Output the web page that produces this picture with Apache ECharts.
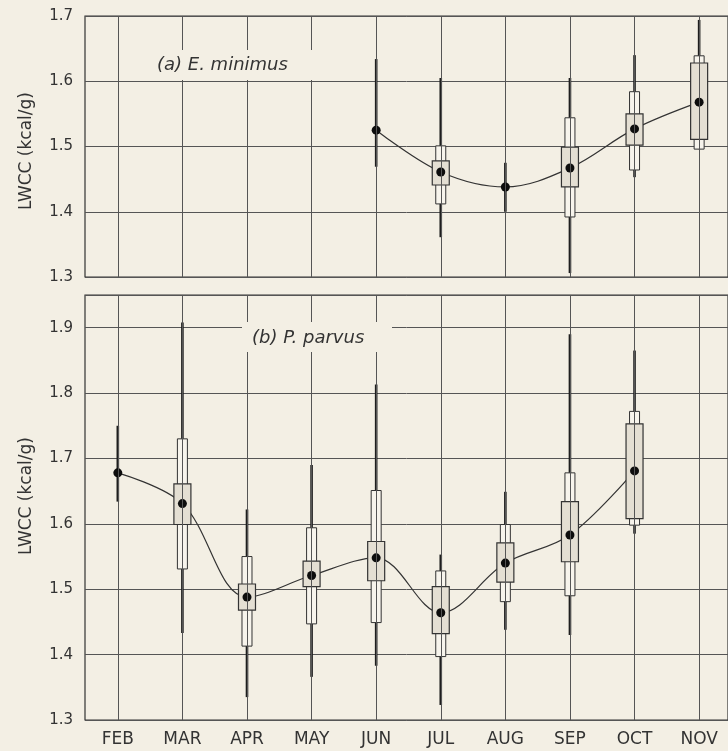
<!DOCTYPE html>
<html>
<head>
<meta charset="utf-8">
<script src="https://cdn.jsdelivr.net/npm/echarts@6.0.0/dist/echarts.min.js"></script>
<style>
html,body{margin:0;padding:0;background:#f3efe4;}
#chart{width:728px;height:751px;}
</style>
</head>
<body>
<div id="chart"></div>
<script>
// Categories
const months = ['FEB','MAR','APR','MAY','JUN','JUL','AUG','SEP','OCT','NOV'];

// (a) E. minimus  (LWCC, kcal/g)
const aMean        = [null, null, null, null, 1.525, 1.461, 1.438, 1.467, 1.527, 1.568];
const aWhiskerHigh = [null, null, null, null, 1.634, 1.605, 1.475, 1.605, 1.640, 1.694];
const aOuterHigh   = [null, null, null, null, null,  1.501, null,  1.544, 1.584, 1.639];
const aInnerHigh   = [null, null, null, null, null,  1.478, null,  1.499, 1.550, 1.628];
const aInnerLow    = [null, null, null, null, null,  1.441, null,  1.438, 1.502, 1.511];
const aOuterLow    = [null, null, null, null, null,  1.412, null,  1.392, 1.464, 1.496];
const aWhiskerLow  = [null, null, null, null, 1.469, 1.361, 1.400, 1.306, 1.453, 1.496];

// (b) P. parvus  (LWCC, kcal/g)
const bMean        = [1.678, 1.631, 1.488, 1.521, 1.548, 1.464, 1.540, 1.583, 1.681, null];
const bWhiskerHigh = [1.750, 1.908, 1.622, 1.690, 1.813, 1.553, 1.649, 1.890, 1.865, null];
const bOuterHigh   = [null,  1.730, 1.550, 1.594, 1.651, 1.528, 1.599, 1.678, 1.772, null];
const bInnerHigh   = [null,  1.661, 1.508, 1.543, 1.573, 1.504, 1.571, 1.634, 1.753, null];
const bInnerLow    = [null,  1.599, 1.468, 1.504, 1.513, 1.432, 1.511, 1.542, 1.608, null];
const bOuterLow    = [null,  1.531, 1.413, 1.447, 1.449, 1.397, 1.481, 1.490, 1.598, null];
const bWhiskerLow  = [1.634, 1.433, 1.335, 1.366, 1.383, 1.323, 1.438, 1.430, 1.585, null];

// y tick range
const aYMin = 1.3, aYMax = 1.7;
const bYMin = 1.3, bYMax = 1.95;

const PAPER = '#f3efe4';
const GRID = '#555';

function rows(wl, ol, il, ih, oh, wh) {
  const out = [];
  months.forEach((m, i) => {
    if (wl[i] == null) return;
    out.push([i, wl[i], ol[i] == null ? '-' : ol[i], il[i] == null ? '-' : il[i],
              ih[i] == null ? '-' : ih[i], oh[i] == null ? '-' : oh[i], wh[i]]);
  });
  return out;
}
function meanPts(arr) {
  const out = [];
  arr.forEach((v, i) => { if (v != null) out.push([i, v]); });
  return out;
}

function renderBox(params, api) {
  const x = api.value(0);
  const children = [];
  const pH = api.coord([x, api.value(6)]);
  const pL = api.coord([x, api.value(1)]);
  const cx = pH[0];
  children.push({type: 'line', shape: {x1: cx, y1: pH[1], x2: cx, y2: pL[1]},
    style: {stroke: '#1e1e1e', lineWidth: 2.6}});
  const oh = api.value(5), ol = api.value(2);
  if (!isNaN(oh) && !isNaN(ol)) {
    const t = api.coord([x, oh])[1], b = api.coord([x, ol])[1];
    children.push({type: 'rect', shape: {x: cx - 5, y: t, width: 10, height: b - t},
      style: {fill: '#f7f4ec', stroke: '#333', lineWidth: 1}});
  }
  const ih = api.value(4), il = api.value(3);
  if (!isNaN(ih) && !isNaN(il)) {
    const t = api.coord([x, ih])[1], b = api.coord([x, il])[1];
    children.push({type: 'rect', shape: {x: cx - 8.5, y: t, width: 17, height: b - t},
      style: {fill: '#e4dfd3', stroke: '#333', lineWidth: 1.2}});
  }
  return {type: 'group', children};
}

const X_MIN = -0.508, X_MAX = 9.447;
const gridLines = months.map((m, i) => ({xAxis: i}));

function xAxisDef(gridIndex, showLabels) {
  return {
    type: 'value', gridIndex, min: X_MIN, max: X_MAX,
    axisLine: {show: false}, axisTick: {show: false}, splitLine: {show: false},
    axisLabel: showLabels ? {
      show: true, customValues: months.map((m, i) => i),
      formatter: v => months[Math.round(v)] || '',
      fontFamily: 'DejaVu Sans', fontSize: 17, color: '#333', margin: 11
    } : {show: false}
  };
}
function yAxisDef(gridIndex, min, max) {
  return {
    type: 'value', gridIndex, min, max, interval: 0.1,
    axisLine: {show: false}, axisTick: {show: false},
    splitLine: {show: true, lineStyle: {color: GRID, width: 1}},
    axisLabel: {fontFamily: 'DejaVu Sans', fontSize: 15, color: '#333', margin: 12,
      showMaxLabel: max === 1.7, formatter: v => v.toFixed(1)}
  };
}

function panelSeries(idx, mean, wl, ol, il, ih, oh, wh) {
  return [
    {type: 'line', xAxisIndex: idx, yAxisIndex: idx, data: [], silent: true,
     markLine: {silent: true, symbol: 'none', label: {show: false},
       lineStyle: {color: GRID, width: 1, type: 'solid'}, data: gridLines, animation: false}, z: 1},
    {type: 'line', xAxisIndex: idx, yAxisIndex: idx, data: meanPts(mean), smooth: 0.35,
     showSymbol: false, symbol: 'none', lineStyle: {color: '#333', width: 1.2}, z: 2},
    {type: 'custom', xAxisIndex: idx, yAxisIndex: idx, data: rows(wl, ol, il, ih, oh, wh),
     renderItem: renderBox, encode: {x: 0, y: [1, 6]}, z: 3},
    {type: 'scatter', xAxisIndex: idx, yAxisIndex: idx, data: meanPts(mean),
     symbol: 'circle', symbolSize: 9, itemStyle: {color: '#0d0d0d', opacity: 1}, z: 4}
  ];
}

const chart = echarts.init(document.getElementById('chart'), null, {renderer: 'canvas'});
chart.setOption({
  backgroundColor: PAPER,
  animation: false,
  grid: [
    {left: 85, top: 16, width: 646, height: 261, show: true, borderColor: '#333', borderWidth: 1.2, backgroundColor: 'transparent'},
    {left: 85, top: 295, width: 646, height: 425, show: true, borderColor: '#333', borderWidth: 1.2, backgroundColor: 'transparent'}
  ],
  xAxis: [xAxisDef(0, false), xAxisDef(1, true)],
  yAxis: [yAxisDef(0, aYMin, aYMax), yAxisDef(1, bYMin, bYMax)],
  series: [
    ...panelSeries(0, aMean, aWhiskerLow, aOuterLow, aInnerLow, aInnerHigh, aOuterHigh, aWhiskerHigh),
    ...panelSeries(1, bMean, bWhiskerLow, bOuterLow, bInnerLow, bInnerHigh, bOuterHigh, bWhiskerHigh)
  ],
  graphic: [
    {type: 'rect', shape: {x: 150, y: 50, width: 162, height: 30}, style: {fill: PAPER}, z: 50},
    {type: 'text', x: 157, y: 65, z: 51,
     style: {text: '(a) E. minimus', font: 'italic 18px "DejaVu Sans"', fill: '#333',
             textAlign: 'left', textVerticalAlign: 'middle'}},
    {type: 'rect', shape: {x: 242, y: 322, width: 150, height: 30}, style: {fill: PAPER}, z: 50},
    {type: 'text', x: 252, y: 338, z: 51,
     style: {text: '(b) P. parvus', font: 'italic 18px "DejaVu Sans"', fill: '#333',
             textAlign: 'left', textVerticalAlign: 'middle'}},
    {type: 'text', x: 27, y: 151, rotation: Math.PI / 2, z: 51,
     style: {text: 'LWCC (kcal/g)', font: '17px "DejaVu Sans"', fill: '#333',
             textAlign: 'center', textVerticalAlign: 'middle'}},
    {type: 'text', x: 27, y: 496, rotation: Math.PI / 2, z: 51,
     style: {text: 'LWCC (kcal/g)', font: '17px "DejaVu Sans"', fill: '#333',
             textAlign: 'center', textVerticalAlign: 'middle'}}
  ]
});
</script>
</body>
</html>
